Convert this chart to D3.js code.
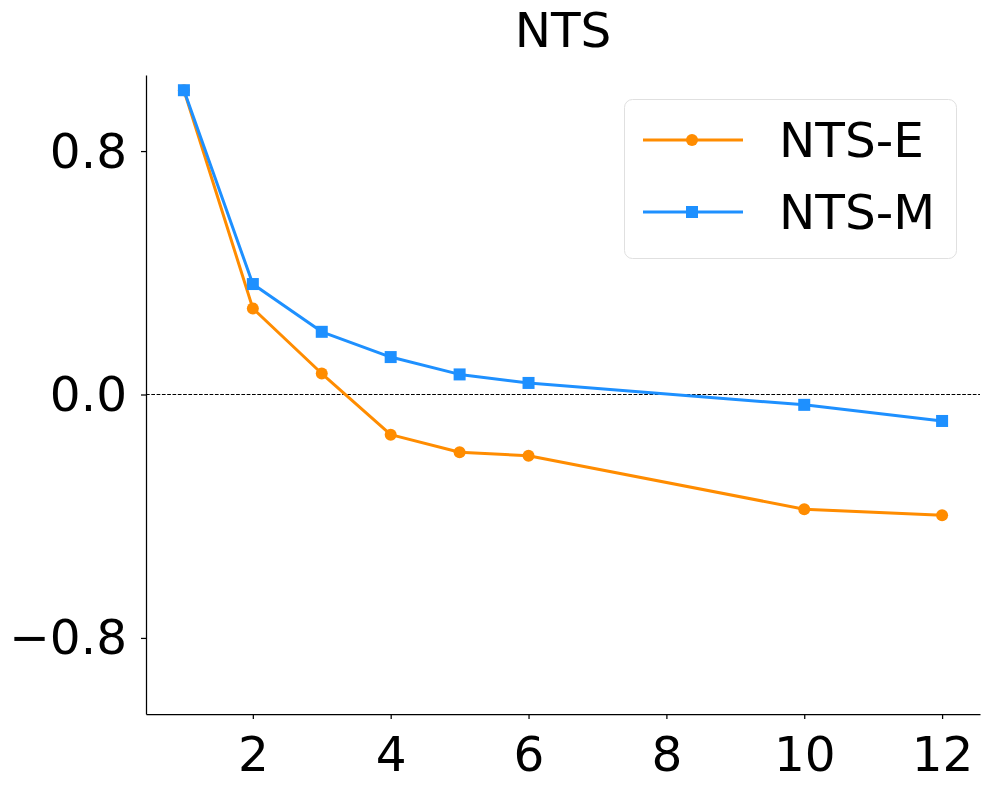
<!DOCTYPE html>
<html>
<head>
<meta charset="utf-8">
<script src="https://cdn.jsdelivr.net/npm/d3@7"></script>
<style>
  body { margin: 0; background: #fff; }
  svg { display: block; font-family: "DejaVu Sans", sans-serif; }
</style>
</head>
<body>
<svg id="chart"></svg>
<script>
var xValues = [1, 2, 3, 4, 5, 6, 10, 12];
var ntsE = [1.0, 0.283, 0.069, -0.132, -0.190, -0.201, -0.377, -0.397];
var ntsM = [1.0, 0.363, 0.206, 0.123, 0.066, 0.038, -0.034, -0.087];
var xTicks = [2, 4, 6, 8, 10, 12];
var yTicks = [-0.8, 0.0, 0.8];
var seriesNames = ["NTS-E", "NTS-M"];
var seriesColors = ["#ff8c00", "#1e90ff"];

var width = 989, height = 789;
var margin = {top: 75, right: 9, bottom: 75, left: 146};
var innerW = width - margin.left - margin.right;
var innerH = height - margin.top - margin.bottom;
var fontSize = "48.5px";

var svg = d3.select("#chart")
            .attr("width", width)
            .attr("height", height);

var g = svg.append("g")
           .attr("transform", "translate(" + margin.left + "," + margin.top + ")");

var x = d3.scaleLinear().domain([0.45, 12.55]).range([0, innerW]);
var y = d3.scaleLinear().domain([-1.05, 1.05]).range([innerH, 0]);

// zero reference line
g.append("line")
  .attr("x1", 0).attr("x2", innerW)
  .attr("y1", y(0)).attr("y2", y(0))
  .attr("stroke", "#000")
  .attr("stroke-width", 1)
  .attr("stroke-dasharray", "3.7,1.6");

// axes
var xAxis = g.append("g")
  .attr("transform", "translate(0," + innerH + ")")
  .call(d3.axisBottom(x).tickValues(xTicks).tickSize(5).tickSizeOuter(0).tickPadding(14).tickFormat(d3.format("d")));

var yAxis = g.append("g")
  .call(d3.axisLeft(y).tickValues(yTicks).tickSize(5).tickSizeOuter(0).tickPadding(14).tickFormat(d3.format(".1f")));

[xAxis, yAxis].forEach(function(a){
  a.select(".domain").attr("stroke", "#000").attr("stroke-width", 1.25);
  a.selectAll(".tick line").attr("stroke", "#000").attr("stroke-width", 1.25);
  a.selectAll(".tick text")
    .attr("fill", "#000")
    .attr("font-size", fontSize)
    .attr("font-family", "DejaVu Sans");
});
xAxis.selectAll(".tick text").attr("dy", null).attr("y", 57);
yAxis.selectAll(".tick text").attr("dy", null).attr("y", 16).attr("x", -19);

// lines
var series = [ntsE, ntsM];
var line = d3.line()
  .x(function(d){ return x(d[0]); })
  .y(function(d){ return y(d[1]); });

series.forEach(function(vals, i){
  var pts = xValues.map(function(xv, j){ return [xv, vals[j]]; });
  g.append("path")
    .datum(pts)
    .attr("fill", "none")
    .attr("stroke", seriesColors[i])
    .attr("stroke-width", 3)
    .attr("stroke-linejoin", "round")
    .attr("d", line);

  if (i === 0) {
    g.selectAll(".dotE")
      .data(pts)
      .enter()
      .append("circle")
      .attr("cx", function(d){ return x(d[0]); })
      .attr("cy", function(d){ return y(d[1]); })
      .attr("r", 6)
      .attr("fill", seriesColors[i]);
  } else {
    g.selectAll(".sqM")
      .data(pts)
      .enter()
      .append("rect")
      .attr("x", function(d){ return x(d[0]) - 6; })
      .attr("y", function(d){ return y(d[1]) - 6; })
      .attr("width", 12)
      .attr("height", 12)
      .attr("fill", seriesColors[i]);
  }
});

// title
svg.append("text")
  .attr("x", margin.left + innerW / 2)
  .attr("y", 47)
  .attr("text-anchor", "middle")
  .attr("font-size", fontSize)
  .attr("fill", "#000")
  .text("NTS");

// legend
var legend = svg.append("g").attr("transform", "translate(624,99)");
legend.append("rect")
  .attr("x", 0.5).attr("y", 0.5)
  .attr("width", 332).attr("height", 159)
  .attr("rx", 8).attr("ry", 8)
  .attr("fill", "#fff").attr("fill-opacity", 0.8)
  .attr("stroke", "#e0e0e0").attr("stroke-width", 1);

seriesNames.forEach(function(name, i){
  var ly = 41 + i * 72;
  legend.append("line")
    .attr("x1", 19).attr("x2", 119)
    .attr("y1", ly).attr("y2", ly)
    .attr("stroke", seriesColors[i])
    .attr("stroke-width", 3);
  if (i === 0) {
    legend.append("circle").attr("cx", 68).attr("cy", ly).attr("r", 6).attr("fill", seriesColors[i]);
  } else {
    legend.append("rect").attr("x", 62).attr("y", ly - 6).attr("width", 12).attr("height", 12).attr("fill", seriesColors[i]);
  }
  legend.append("text")
    .attr("x", 155)
    .attr("y", ly + 17)
    .attr("font-size", fontSize)
    .attr("fill", "#000")
    .text(name);
});
</script>
</body>
</html>
